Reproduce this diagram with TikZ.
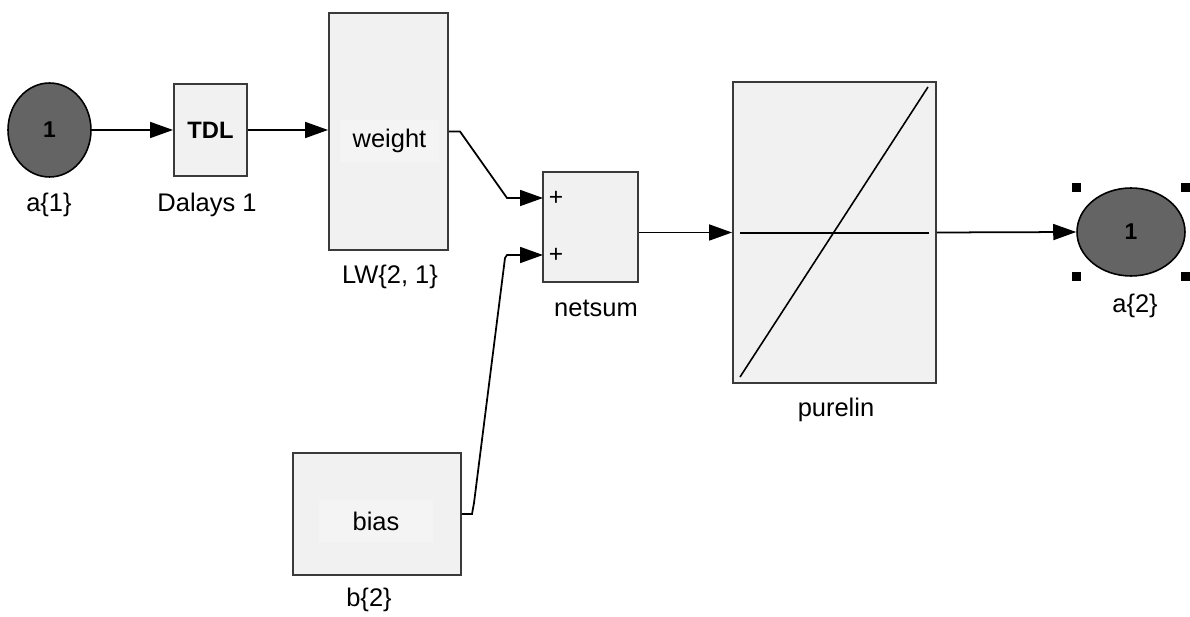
\documentclass[tikz,border=0pt]{standalone}
\usepackage{fontspec}
\setmainfont{Liberation Sans}
\usetikzlibrary{arrows.meta,shapes.geometric}
\definecolor{blockfill}{HTML}{F1F1F1}
\definecolor{tagfill}{HTML}{F4F4F4}
\definecolor{blockedge}{HTML}{3A3A3A}
\definecolor{portfill}{HTML}{646464}

\begin{document}
\begin{tikzpicture}[x=0.02cm,y=-0.02cm,>={Triangle[length=0.46cm,width=0.32cm]},
  blk/.style={draw=blockedge,line width=1.1pt,fill=blockfill,inner sep=0pt},
  tag/.style={fill=tagfill,inner sep=0pt,font=\fontsize{14.5}{17}\selectfont},
  port/.style={ellipse,draw=black,line width=0.9pt,fill=portfill,inner sep=0pt,
    font=\fontsize{13}{14}\selectfont\bfseries},
  lbl/.style={font=\fontsize{14.5}{17}\selectfont,inner sep=0pt},
  sig/.style={->,line width=1pt}]
  \useasboundingbox (0,0) rectangle (1190,617);
  % input port
  \node[port,minimum width=1.66cm,minimum height=1.88cm] (in1) at (49.5,130) {1};
  \node[lbl] (in1-lbl) at (49,205) {a\{1\}};
  % tapped delay line
  \node[blk,minimum width=1.46cm,minimum height=1.84cm,
    font=\fontsize{13.5}{14}\selectfont\bfseries] (tdl) at (210.5,130) {TDL};
  \node[lbl] (tdl-lbl) at (207,205) {Dalays 1};
  % layer weight
  \node[blk,minimum width=2.38cm,minimum height=4.74cm] (weight) at (388.5,131.5) {};
  \node[tag,minimum width=1.98cm,minimum height=0.84cm] (weight-txt) at (389.5,141) {weight};
  \node[lbl] (weight-lbl) at (390,277) {LW\{2, 1\}};
  % bias
  \node[blk,minimum width=3.36cm,minimum height=2.44cm] (bias) at (377,514) {};
  \node[tag,minimum width=2.3cm,minimum height=0.86cm] (bias-txt) at (376,521) {bias};
  \node[lbl] (bias-lbl) at (369,600) {b\{2\}};
  % net input sum
  \node[blk,minimum width=1.9cm,minimum height=2.2cm] (netsum) at (590.5,227) {};
  \node[font=\fontsize{14}{15}\selectfont,inner sep=0pt] (plus1) at (556,198) {+};
  \node[font=\fontsize{14}{15}\selectfont,inner sep=0pt] (plus2) at (556,255) {+};
  \node[lbl] (netsum-lbl) at (596,308) {netsum};
  \coordinate (sum1) at (543,198);
  \coordinate (sum2) at (543,255);
  % transfer function
  \node[blk,minimum width=4.06cm,minimum height=6.02cm] (purelin) at (834.5,232.5) {};
  \draw[line width=1pt] (740,233) -- (929,233);
  \draw[line width=0.9pt] (740,377) -- (928,87);
  \node[lbl] (purelin-lbl) at (836,410) {purelin};
  % output port
  \node[port,minimum width=2.16cm,minimum height=1.76cm] (out) at (1131,232) {1};
  \foreach \h/\v in {west/north,east/north,west/south,east/south}
    \fill (out.\h |- out.\v) ++(-4.5,-4.5) rectangle ++(9,9);
  \node[lbl] (out-lbl) at (1135,306) {a\{2\}};
  % signals
  \coordinate (wbend1) at (460,131.5);
  \coordinate (wbend2) at (507,198);
  \coordinate (bbend1) at (472,514);
  \coordinate (bbend2) at (474,503);
  \coordinate (bbend3) at (505,258);
  \coordinate (bbend4) at (507,255);
  \draw[sig] (in1.east) -- (in1.east -| tdl.west);
  \draw[sig] (tdl.east) -- (tdl.east -| weight.west);
  \draw[sig] (weight.east) -- (wbend1) -- (wbend2) -- (sum1);
  \draw[sig] (bias.east) -- (bbend1) -- (bbend2) -- (bbend3) -- (bbend4) -- (sum2);
  \draw[sig] (purelin.west -| netsum.east) -- (purelin.west);
  \draw[sig] (purelin.east) -- (out.west);
\end{tikzpicture}
\end{document}
